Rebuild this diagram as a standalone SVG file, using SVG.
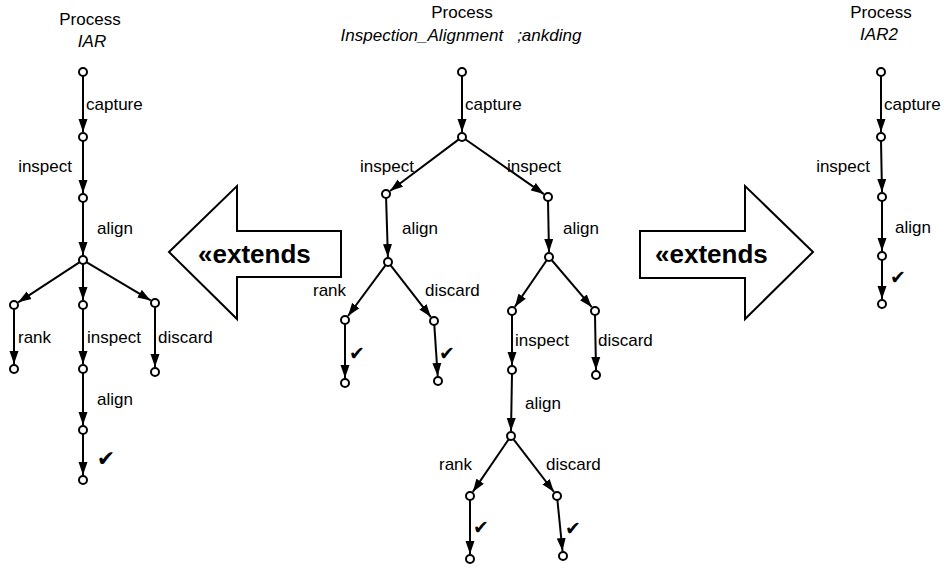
<svg xmlns="http://www.w3.org/2000/svg" width="944" height="569" viewBox="0 0 944 569">
  <style>
    text { font-family: "Liberation Sans", Arial, sans-serif; fill: #000; }
    .title { font-size: 17px; text-anchor: middle; }
    .name { font-size: 17px; font-style: italic; text-anchor: middle; }
    .lbl { font-size: 17px; }
    .lbl-end { font-size: 17px; text-anchor: end; }
    .ext { font-size: 26px; font-weight: bold; }
    .chk { font-family: "DejaVu Sans", sans-serif; font-size: 19px; text-anchor: middle; }
    .chk-lg { font-size: 22px; }
    .edge { stroke: #000; stroke-width: 2; fill: none; marker-end: url(#head); }
    .state { fill: #fff; stroke: #000; stroke-width: 2; }
    .big { fill: #fff; stroke: #000; stroke-width: 2; stroke-linejoin: miter; }
  </style>
  <defs>
    <marker id="head" markerUnits="userSpaceOnUse" markerWidth="13" markerHeight="10" refX="13" refY="5" orient="auto">
      <path d="M0,0.5 L13,5 L0,9.5 z" fill="#000"/>
    </marker>
  </defs>

  <!-- titles -->
  <g id="title-iar">
    <text class="title" x="90" y="25">Process</text>
    <text class="name" x="92" y="47">IAR</text>
  </g>
  <g id="title-main">
    <text class="title" x="462" y="18">Process</text>
    <text class="name" x="461" y="41">Inspection_Alignment<tspan dx="14">;ankding</tspan></text>
  </g>
  <g id="title-iar2">
    <text class="title" x="881" y="18">Process</text>
    <text class="name" x="879" y="40">IAR2</text>
  </g>

  <!-- extends arrows -->
  <g id="extends-left">
    <path class="big" d="M169,252 L237,186 L237,231 L341,231 L341,277 L237,277 L237,319 Z"/>
    <text class="ext" x="198" y="263">«extends</text>
  </g>
  <g id="extends-right">
    <path class="big" d="M813,252 L745,186 L745,231 L640,231 L640,278 L745,278 L745,319 Z"/>
    <text class="ext" x="655" y="263">«extends</text>
  </g>

  <!-- connectors -->
  <g id="connectors">
    <!-- IAR -->
    <line class="edge" x1="83" y1="76" x2="83" y2="132"/>
    <line class="edge" x1="83" y1="141" x2="83" y2="193"/>
    <line class="edge" x1="83" y1="202" x2="83" y2="255"/>
    <line class="edge" x1="79.7" y1="262.2" x2="18.2" y2="302.3"/>
    <line class="edge" x1="83" y1="264" x2="83" y2="300"/>
    <line class="edge" x1="86.4" y1="262.1" x2="150.7" y2="300.4"/>
    <line class="edge" x1="14" y1="309" x2="14" y2="364"/>
    <line class="edge" x1="83" y1="309" x2="83" y2="364"/>
    <line class="edge" x1="155" y1="307" x2="155" y2="367"/>
    <line class="edge" x1="83" y1="373" x2="83" y2="425"/>
    <line class="edge" x1="83" y1="434" x2="83" y2="475"/>
    <!-- Inspection_Alignment -->
    <line class="edge" x1="462" y1="76" x2="462" y2="132"/>
    <line class="edge" x1="458.8" y1="139.4" x2="390" y2="191"/>
    <line class="edge" x1="465.3" y1="139.3" x2="543.9" y2="194.1"/>
    <line class="edge" x1="386.1" y1="198" x2="387.9" y2="257"/>
    <line class="edge" x1="385.6" y1="265.2" x2="348" y2="316"/>
    <line class="edge" x1="390.5" y1="265.2" x2="430.9" y2="317.1"/>
    <line class="edge" x1="345" y1="324" x2="345" y2="378"/>
    <line class="edge" x1="434.3" y1="325" x2="437.7" y2="376"/>
    <line class="edge" x1="548" y1="201" x2="549" y2="252"/>
    <line class="edge" x1="546.7" y1="260.3" x2="514.8" y2="306.9"/>
    <line class="edge" x1="551.6" y1="260" x2="591.8" y2="307.2"/>
    <line class="edge" x1="512" y1="315" x2="512" y2="365"/>
    <line class="edge" x1="595" y1="315" x2="596" y2="370"/>
    <line class="edge" x1="512" y1="374" x2="511" y2="431"/>
    <line class="edge" x1="508.7" y1="439.3" x2="472.8" y2="491.9"/>
    <line class="edge" x1="513.4" y1="439.2" x2="554" y2="492"/>
    <line class="edge" x1="470" y1="500" x2="470" y2="554"/>
    <line class="edge" x1="557.4" y1="500" x2="562.5" y2="551"/>
    <!-- IAR2 -->
    <line class="edge" x1="881" y1="76" x2="881" y2="132"/>
    <line class="edge" x1="881" y1="141" x2="882" y2="192"/>
    <line class="edge" x1="882" y1="201" x2="882" y2="251"/>
    <line class="edge" x1="882" y1="260" x2="882" y2="299"/>
  </g>

  <!-- connector labels -->
  <g id="labels">
    <text class="lbl" x="86" y="110">capture</text>
    <text class="lbl-end" x="72" y="172">inspect</text>
    <text class="lbl" x="97" y="234">align</text>
    <text class="lbl" x="18" y="343">rank</text>
    <text class="lbl" x="87" y="343">inspect</text>
    <text class="lbl" x="158" y="343">discard</text>
    <text class="lbl" x="97" y="405">align</text>
    <text class="chk chk-lg" x="106" y="466">✔</text>

    <text class="lbl" x="465" y="110">capture</text>
    <text class="lbl" x="360" y="172">inspect</text>
    <text class="lbl" x="507" y="172">inspect</text>
    <text class="lbl" x="402" y="234">align</text>
    <text class="lbl" x="563" y="234">align</text>
    <text class="lbl" x="313" y="296">rank</text>
    <text class="lbl" x="425" y="296">discard</text>
    <text class="chk" x="357" y="360">✔</text>
    <text class="chk" x="447" y="360">✔</text>
    <text class="lbl" x="515" y="346">inspect</text>
    <text class="lbl" x="598" y="346">discard</text>
    <text class="lbl" x="525" y="409">align</text>
    <text class="lbl" x="439" y="470">rank</text>
    <text class="lbl" x="546" y="470">discard</text>
    <text class="chk" x="481" y="534">✔</text>
    <text class="chk" x="573" y="535">✔</text>

    <text class="lbl" x="884" y="110">capture</text>
    <text class="lbl-end" x="870" y="172">inspect</text>
    <text class="lbl" x="895" y="233">align</text>
    <text class="chk" x="898" y="284">✔</text>
  </g>

  <!-- states: IAR -->
  <g id="iar-states">
    <circle class="state" cx="83" cy="72" r="4"/>
    <circle class="state" cx="83" cy="137" r="4"/>
    <circle class="state" cx="83" cy="198" r="4"/>
    <circle class="state" cx="83" cy="260" r="4"/>
    <circle class="state" cx="14" cy="305" r="4"/>
    <circle class="state" cx="83" cy="305" r="4"/>
    <circle class="state" cx="155" cy="303" r="4"/>
    <circle class="state" cx="14" cy="369" r="4"/>
    <circle class="state" cx="83" cy="369" r="4"/>
    <circle class="state" cx="155" cy="372" r="4"/>
    <circle class="state" cx="83" cy="430" r="4"/>
    <circle class="state" cx="83" cy="480" r="4"/>
  </g>
  <!-- states: Inspection_Alignment -->
  <g id="main-states">
    <circle class="state" cx="462" cy="72" r="4"/>
    <circle class="state" cx="462" cy="137" r="4"/>
    <circle class="state" cx="386" cy="194" r="4"/>
    <circle class="state" cx="548" cy="197" r="4"/>
    <circle class="state" cx="388" cy="262" r="4"/>
    <circle class="state" cx="549" cy="257" r="4"/>
    <circle class="state" cx="345" cy="320" r="4"/>
    <circle class="state" cx="434" cy="321" r="4"/>
    <circle class="state" cx="512" cy="311" r="4"/>
    <circle class="state" cx="595" cy="311" r="4"/>
    <circle class="state" cx="345" cy="383" r="4"/>
    <circle class="state" cx="438" cy="381" r="4"/>
    <circle class="state" cx="512" cy="370" r="4"/>
    <circle class="state" cx="596" cy="375" r="4"/>
    <circle class="state" cx="511" cy="436" r="4"/>
    <circle class="state" cx="470" cy="496" r="4"/>
    <circle class="state" cx="557" cy="496" r="4"/>
    <circle class="state" cx="470" cy="559" r="4"/>
    <circle class="state" cx="563" cy="556" r="4"/>
  </g>
  <!-- states: IAR2 -->
  <g id="iar2-states">
    <circle class="state" cx="881" cy="72" r="4"/>
    <circle class="state" cx="881" cy="137" r="4"/>
    <circle class="state" cx="882" cy="197" r="4"/>
    <circle class="state" cx="882" cy="256" r="4"/>
    <circle class="state" cx="882" cy="304" r="4"/>
  </g>
</svg>
